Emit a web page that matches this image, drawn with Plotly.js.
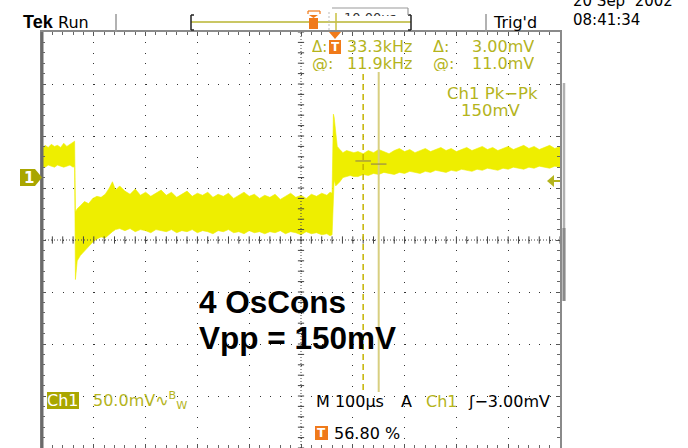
<!DOCTYPE html>
<html><head><meta charset="utf-8">
<script src="https://cdn.plot.ly/plotly-3.0.1.min.js"></script>
<style>body{margin:0;background:#fff}#chart{width:688px;height:448px}</style>
</head><body><div id="chart"></div>
<script>
// ---- data (time in µs from left edge, level in mV from screen centre) ----
const timeUs = [0,6,12,18,24,30,36,42,48,54,60,63,
  64.5,68,74,82,90,98,106,114,122,130,136,142,150,
  160,170,180,190,200,210,220,230,240,250,260,270,280,290,300,310,320,330,340,350,
  360,370,380,390,400,410,420,430,440,450,460,470,480,490,500,510,520,530,540,550,
  556,560,
  562.5,564,567,570,575,581,588,595,602,
  610,620,630,640,650,660,670,680,690,700,710,720,730,740,750,760,770,780,790,800,
  810,820,830,840,850,860,870,880,890,900,910,920,930,940,950,960,970,980,990,1000];
const upperMv = [88,91,89,92,90,91,89,93,90,92,94,95,
  27,30,33,37,35,40,42,41,44,50,56,48,52,
  47,44,49,43,46,42,45,48,43,46,41,44,47,42,45,43,46,41,44,42,
  45,40,43,46,42,44,40,43,41,44,39,42,45,41,43,40,44,42,45,43,
  46,45,
  121,118,100,90,87,84,86,85,84,
  85,83,86,84,87,85,83,86,88,85,87,84,86,88,85,87,89,86,88,85,
  87,89,86,88,90,87,89,86,88,90,87,89,91,88,90,87,89,91,88,90];
const lowerMv = [71,70,72,71,70,72,71,70,71,72,70,71,
  -38,-20,-15,-10,-6,-2,1,3,2,5,8,10,11,
  9,11,8,10,9,7,10,9,8,10,7,9,8,10,7,9,8,6,9,8,
  10,7,8,6,9,7,8,6,8,7,9,6,8,7,5,8,6,7,5,6,
  4,5,
  40,58,52,53,56,60,61,62,61,
  61,63,62,64,63,65,64,63,65,64,66,65,64,66,65,67,66,65,67,66,
  68,67,66,68,67,69,68,67,69,68,70,69,68,70,69,71,70,69,71,70];
const cursorTimesUs = [620, 650];
const cursorLevelsMv = [76, 73];

// ---- colours / helpers ----
const OLIVE = '#b4b41c', BOX = '#a9a600', ORANGE = '#f07a1a', YEL = '#eeee00';
const L = 42, T = 32, W = 518, H = 416;
const px = x => (x - L) / W;
const py = y => (T + H - y) / H;
const F = 'DejaVu Sans';
function ann(text, x, y, o) {
  o = o || {};
  return Object.assign({text, xref:'paper', yref:'paper', x:px(x), y:py(y), showarrow:false,
    xanchor:o.xa||'left', yanchor:'middle',
    font:{family:o.family||F, size:o.size||16, color:o.color||'#000', weight:o.weight||'normal'}}, o.extra||{});
}
const tight = {height:15, borderpad:0};
function pline(x0,y0,x1,y1,color,width,dash){
  return {type:'line', xref:'paper', yref:'paper', x0:px(x0), y0:py(y0), x1:px(x1), y1:py(y1),
    line:{color, width, dash:dash||'solid'}};
}
function ppath(d, fill, lineColor, lw){
  const s = d.map((p,i)=>(i?'L':'M')+px(p[0])+','+py(p[1])).join(' ')+' Z';
  return {type:'path', xref:'paper', yref:'paper', path:s, fillcolor:fill, line:{color:lineColor||fill, width:lw||0}};
}

// ---- trace band ----
const bandX = timeUs.concat(timeUs.slice().reverse());
const bandY = upperMv.concat(lowerMv.slice().reverse());
const traces = [{
  type:'scatter', mode:'lines', x:bandX, y:bandY, fill:'toself',
  fillcolor:YEL, line:{color:YEL, width:0.6}, hoverinfo:'skip'
}];

// ---- shapes ----
const shapes = [];
shapes.push({type:'line', xref:'x', yref:'y', x0:0, x1:1000, y0:0, y1:0, line:{color:'#444', width:1, dash:'1px,2px'}});
shapes.push({type:'line', xref:'x', yref:'y', x0:500, x1:500, y0:-200, y1:200, line:{color:'#444', width:1, dash:'1px,2px'}});
for (let t = 0; t <= 1000; t += 20)
  shapes.push({type:'line', xref:'x', yref:'y', x0:t, x1:t, y0:-3.5, y1:3.5, line:{color:'#444', width:1}});
for (let v = -200; v <= 200; v += 10)
  shapes.push({type:'line', xref:'x', yref:'y', x0:494, x1:506, y0:v, y1:v, line:{color:'#444', width:1}});
shapes.push(pline(42, 32, 42, 448, '#6a6a6a', 3));
// cursors
shapes.push({type:'line', xref:'x', yref:'paper', x0:cursorTimesUs[0], x1:cursorTimesUs[0], y0:py(390), y1:py(72),
  line:{color:'#c4b400', width:1.5, dash:'6px,4px'}});
shapes.push({type:'line', xref:'x', yref:'paper', x0:cursorTimesUs[1], x1:cursorTimesUs[1], y0:py(392), y1:py(72),
  line:{color:'#d8cf80', width:2}});
cursorTimesUs.forEach((t,i)=>{
  shapes.push({type:'line', xref:'x', yref:'y', x0:t-15, x1:t+15, y0:cursorLevelsMv[i], y1:cursorLevelsMv[i],
    line:{color:'#a89e3c', width:1.5}});
});
// top bar
shapes.push(pline(116, 14, 116, 32, '#999', 1.5));
shapes.push(pline(486, 14, 486, 32, '#999', 1.5));
shapes.push(pline(191, 22, 411, 22, '#b8b430', 1.5));
shapes.push(pline(191, 15, 191, 30, '#222', 1.5));
shapes.push(pline(191, 15, 194, 15, '#222', 1.5));
shapes.push(pline(191, 30, 194, 30, '#222', 1.5));
shapes.push(pline(411, 15, 411, 30, '#222', 1.5));
shapes.push(pline(408, 15, 411, 15, '#222', 1.5));
shapes.push(pline(408, 30, 411, 30, '#222', 1.5));
shapes.push(pline(332, 8, 408, 8, '#999', 1.2));
shapes.push(pline(408, 8, 408, 15, '#999', 1.2));
shapes.push(pline(329, 12, 329, 30, '#bbb', 1, '2px,2px'));
shapes.push(pline(336, 13, 336, 30, '#c8c040', 1.5));
shapes.push(ppath([[309,18],[318,18],[318,29],[309,29]], ORANGE));
shapes.push(pline(308, 14, 308, 11, ORANGE, 1.2));
shapes.push(pline(308, 11, 320, 11, ORANGE, 1.2));
shapes.push(pline(320, 11, 320, 14, ORANGE, 1.2));
shapes.push(ppath([[309,15],[318,15],[313.5,18]], ORANGE));
shapes.push(ppath([[329,32],[341,32],[335,39]], ORANGE));
shapes.push(ppath([[329,40],[341,40],[341,54],[329,54]], ORANGE));
shapes.push(ppath([[315,426],[328,426],[328,440],[315,440]], ORANGE));
shapes.push(ppath([[47,392],[79,392],[79,409],[47,409]], BOX));
shapes.push(ppath([[20,169],[35,169],[42,177.5],[35,186],[20,186]], BOX));
shapes.push(ppath([[547,181],[554,175],[554,187]], OLIVE));
shapes.push(pline(553, 181, 560, 181, OLIVE, 2));
shapes.push(pline(564, 83, 564, 301, '#b0b0b0', 2.5));
shapes.push(pline(564, 228, 564, 301, '#8a8a8a', 3));

// ---- annotations ----
const anns = [
  ann('Tek', 21, 22, {family:'Liberation Sans', size:18, weight:'bold'}),
  ann('Run', 56, 22),
  ann("Trig'd", 491, 22),
  ann('20 Sep  2002', 571, 1, {size:15}),
  ann('08:41:34', 571, 20, {size:15}),
  // time readout, only its upper part shows above the record bar
  {text:'10.00µs', xref:'paper', yref:'paper', x:px(370), y:py(9), xanchor:'center', yanchor:'top',
   valign:'top', height:6, borderpad:0, showarrow:false, font:{family:F, size:13, color:'#333'}},
  ann('<b>T</b>', 335, 47, {xa:'center', size:12, color:'#fff', extra:tight}),
  ann('Δ:', 328, 47, {xa:'right', size:15, color:OLIVE, extra:tight}),
  ann('33.3kHz', 413, 47, {xa:'right', color:OLIVE, extra:tight}),
  ann('Δ:', 432, 47, {color:OLIVE, extra:tight}),
  ann('3.00mV', 535, 47, {xa:'right', color:OLIVE, extra:tight}),
  ann('@:', 311, 64, {color:OLIVE, extra:tight}),
  ann('11.9kHz', 413, 64, {xa:'right', color:OLIVE, extra:tight}),
  ann('@:', 432, 64, {color:OLIVE, extra:tight}),
  ann('11.0mV', 535, 64, {xa:'right', color:OLIVE, extra:tight}),
  ann('Ch1 Pk−Pk', 492, 93, {xa:'center', size:16.5, color:OLIVE, extra:tight}),
  ann('150mV', 491, 110, {xa:'center', size:16.5, color:OLIVE, extra:tight}),
  ann('<b>1</b>', 29, 177.5, {xa:'center', size:15, color:'#fff'}),
  ann('4 OsCons', 197, 302, {family:'Liberation Sans', size:31.5, weight:'bold'}),
  ann('Vpp = 150mV', 197, 338, {family:'Liberation Sans', size:31.5, weight:'bold'}),
  ann('Ch1', 63, 400, {xa:'center', color:'#fff'}),
  ann('50.0mV∿<sup>B</sup><sub>W</sub>', 91, 400, {color:OLIVE}),
  ann('M 100µs', 314, 401),
  ann('A', 399, 401),
  ann('Ch1', 424, 401, {color:OLIVE}),
  ann('ʃ−3.00mV', 466, 401),
  ann('<b>T</b>', 321.5, 433, {xa:'center', size:12, color:'#fff'}),
  ann('56.80 %', 332, 433)
];

const layout = {
  width:688, height:448, margin:{l:42, r:128, t:32, b:0, pad:0},
  paper_bgcolor:'#fff', plot_bgcolor:'#fff', showlegend:false,
  xaxis:{range:[0,1000], dtick:100, tick0:0, showgrid:true, gridcolor:'#333', gridwidth:1, griddash:'1px,9.4px',
    zeroline:false, showline:true, linecolor:'#8a8a8a', linewidth:2, mirror:'allticks',
    ticks:'inside', ticklen:4, tickcolor:'#555', tickwidth:1, showticklabels:false,
    minor:{dtick:20, tick0:0, ticks:'inside', ticklen:3, tickcolor:'#666', showgrid:false}, fixedrange:true},
  yaxis:{range:[-200,200], dtick:50, tick0:0, showgrid:true, gridcolor:'#333', gridwidth:1, griddash:'1px,9.36px',
    zeroline:false, showline:true, linecolor:'#8a8a8a', linewidth:2, mirror:'allticks',
    ticks:'inside', ticklen:4, tickcolor:'#555', tickwidth:1, showticklabels:false,
    minor:{dtick:10, tick0:0, ticks:'inside', ticklen:3, tickcolor:'#666', showgrid:false}, fixedrange:true},
  shapes, annotations:anns
};
Plotly.newPlot('chart', traces, layout, {staticPlot:true, displayModeBar:false});
</script></body></html>
